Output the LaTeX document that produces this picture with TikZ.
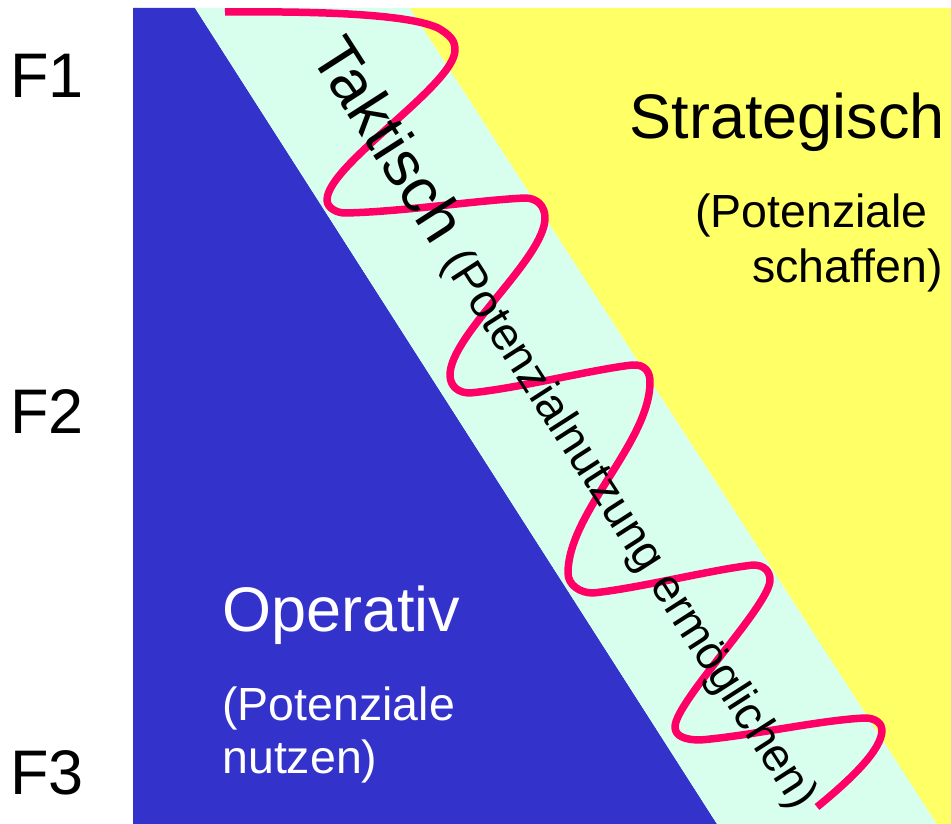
\documentclass[tikz,border=0pt]{standalone}
\usepackage{fontspec}
\setmainfont{Liberation Sans}
\definecolor{opblue}{HTML}{3333CC}
\definecolor{takcyan}{HTML}{D8FFEE}
\definecolor{stryellow}{HTML}{FFFF66}
\definecolor{wavered}{HTML}{FF0066}
\begin{document}
\begin{tikzpicture}[x=0.02cm,y=-0.02cm,
  big/.style={font=\fontsize{35.85}{43}\selectfont, inner sep=0pt},
  small/.style={font=\fontsize{26.46}{32}\selectfont, inner sep=0pt},
  wave/.style={draw=wavered, line width=0.15cm, line join=round}]
\useasboundingbox (0,0) rectangle (951,824);
% regions
\fill[opblue] (133,8) -- (195,8) -- (717,824) -- (133,824) -- cycle;
\fill[takcyan] (195,8) -- (410,8) -- (937,824) -- (717,824) -- cycle;
\fill[stryellow] (410,8) -- (951,8) -- (951,824) -- (937,824) -- cycle;
% wave
\draw[wave] (225,12) .. controls (330,11) and (410,15) .. (438,28)
 .. controls (452,36) and (455,42) .. (455,50)
 .. controls (455,85) and (327,165) .. (327,200)
 .. controls (327,208) and (337,213) .. (345,213)
 .. controls (400,212) and (480,200) .. (525,198)
 .. controls (537,198) and (545,206) .. (545,218)
 .. controls (545,258) and (450,335) .. (450,375)
 .. controls (450,386) and (458,393) .. (470,393)
 .. controls (520,388) and (590,370) .. (632,365)
 .. controls (645,364) and (650,372) .. (650,382)
 .. controls (650,442) and (568,513) .. (568,573)
 .. controls (568,585) and (580,593) .. (593,593)
 .. controls (640,588) and (710,570) .. (753,565)
 .. controls (765,565) and (770,572) .. (770,580)
 .. controls (770,605) and (675,702) .. (675,727)
 .. controls (675,737) and (687,740) .. (700,740)
 .. controls (750,736) and (820,720) .. (865,718)
 .. controls (876,718) and (882,724) .. (882,730)
 .. controls (882,750) and (850,780) .. (817,807);
% labels
\node[big, anchor=base west] (f1) at (10,98) {F1};
\node[big, anchor=base west] (f2) at (10,434) {F2};
\node[big, anchor=base west] (f3) at (10,794) {F3};
\node[big, anchor=base east] (strat) at (945,139) {Strategisch};
\node[small, anchor=base east] (strat1) at (928,228) {(Potenziale};
\node[small, anchor=base east] (strat2) at (943,283) {schaffen)};
\node[big, anchor=base west, text=white] (op) at (222,631) {Operativ};
\node[small, anchor=base west, text=white] (op1) at (222,720) {(Potenziale};
\node[small, anchor=base west, text=white] (op2) at (222,773) {nutzen)};
\node[anchor=base west, inner sep=0pt, rotate=-57.3] (tak) at (309,55)
  {\fontsize{35.85}{43}\selectfont Taktisch \fontsize{26.46}{32}\selectfont(Potenzialnutzung ermöglichen)};
\end{tikzpicture}
\end{document}
